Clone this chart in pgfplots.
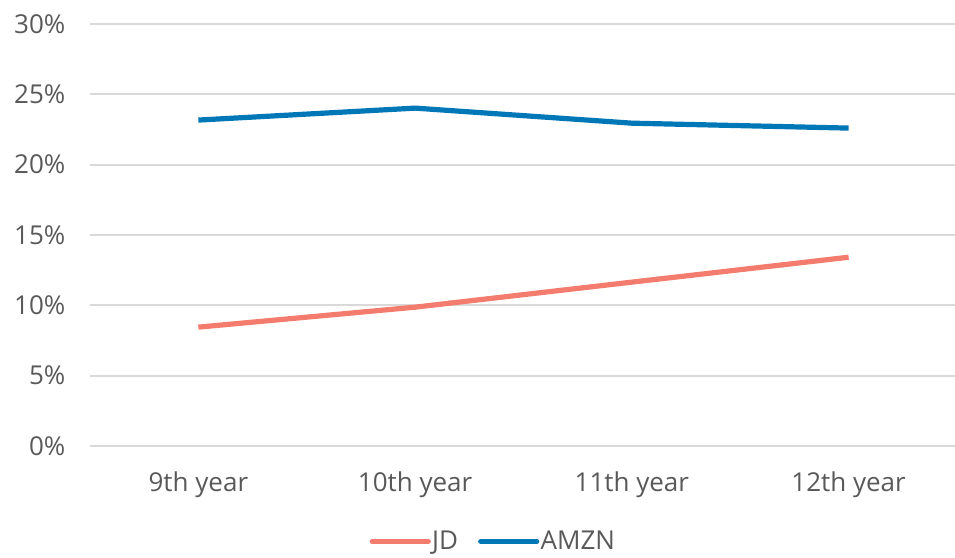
\documentclass[border=0pt]{standalone}
\usepackage{fontspec}
\setmainfont{Open Sans}
\usepackage{pgfplots}
\pgfplotsset{compat=1.18}
\definecolor{jdcol}{HTML}{F47C6F}
\definecolor{amzncol}{HTML}{0077B6}
\definecolor{gridcol}{HTML}{D9D9D9}
\definecolor{txtcol}{HTML}{595959}
\begin{document}
\begin{tikzpicture}[x=1pt,y=1pt]
\begin{axis}[
  at={(0,0)}, anchor=south west,
  scale only axis,
  width=650.25pt, height=316.5pt,
  xmin=-0.5, xmax=3.5,
  ymin=0, ymax=30,
  xtick={0,1,2,3},
  xticklabels={9th year,10th year,11th year,12th year},
  ytick={0,5,10,15,20,25,30},
  yticklabel={\pgfmathprintnumber{\tick}\%},
  /pgf/number format/assume math mode=true,
  ymajorgrids,
  grid style={gridcol, line width=1.5pt},
  axis line style={draw=none},
  major tick length=0pt,
  tick label style={font=\fontsize{19.5}{23}\selectfont, text=txtcol},
  yticklabel style={xshift=-15pt},
  xticklabel style={yshift=-16pt},
  clip=false,
  legend columns=-1,
  legend style={draw=none, fill=none, at={(302.25pt,-71.5pt)}, anchor=center,
    font=\fontsize{19.5}{23}\selectfont, text=txtcol,
    /tikz/every even column/.style={column sep=14pt},
    nodes={inner sep=1pt}},
  legend cell align=left,
  legend image code/.code={\draw[#1, line cap=round] (0pt,0pt) -- (42pt,0pt);},
]
\addplot[jdcol, line width=3.9pt, line join=round] coordinates {(0,8.45) (1,9.87) (2,11.65) (3,13.42)};
\addlegendentry{JD}
\addplot[amzncol, line width=3.9pt, line join=round] coordinates {(0,23.17) (1,24.02) (2,22.95) (3,22.6)};
\addlegendentry{AMZN}
\end{axis}
\pgfresetboundingbox
\useasboundingbox (-67.5pt,-83.25pt) rectangle (648.75pt,334.5pt);
\end{tikzpicture}
\end{document}
